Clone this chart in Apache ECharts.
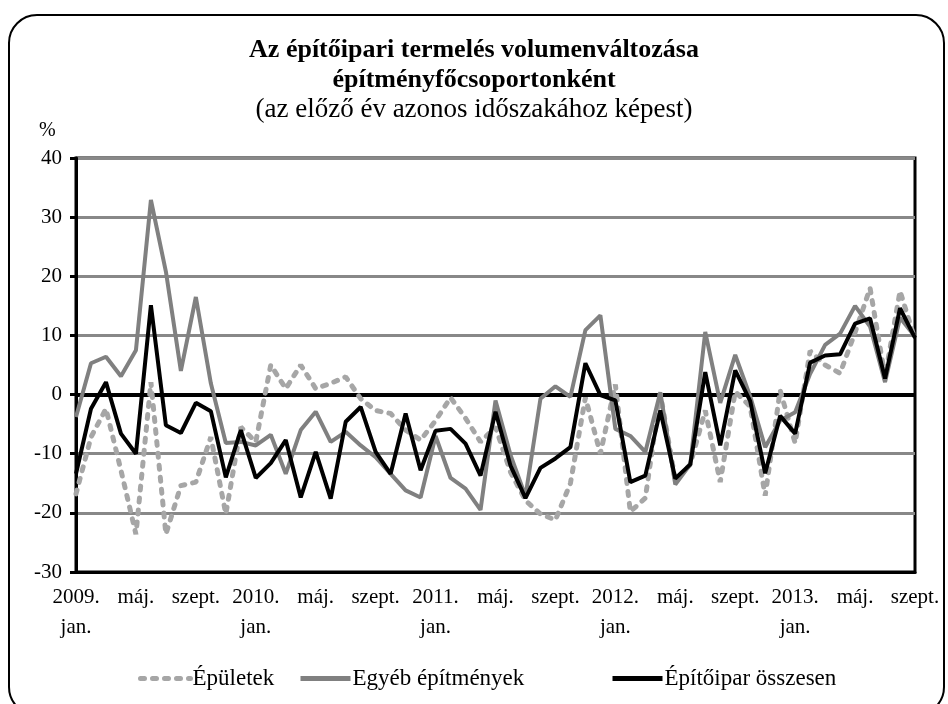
<!DOCTYPE html>
<html>
<head>
<meta charset="utf-8">
<script src="https://cdn.jsdelivr.net/npm/echarts@6/dist/echarts.min.js"></script>
<style>
html,body{margin:0;padding:0;background:#fff;}
#chart{width:948px;height:704px;}
</style>
</head>
<body>
<div id="chart"></div>
<script>
const years = ["2009.", "2010.", "2011.", "2012.", "2013."];
const months = ["jan.", "febr.", "márc.", "ápr.", "máj.", "jún.", "júl.", "aug.", "szept.", "okt.", "nov.", "dec."];
const monthCount = 57;

const epuletek = [
  -16.8, -7.2, -2.4, -12.8, -23.6, 2.1, -23.6, -15.4, -14.8, -7.2, -20.2, -5.5,
  -8.0, 5.0, 1.0, 5.0, 1.0, 1.9, 3.0, -0.7, -2.7, -3.2, -6.0, -7.7,
  -4.4, -0.5, -4.0, -8.0, -5.5, -13.1, -17.9, -20.2, -21.2, -15.0, -0.5, -10.0,
  1.7, -19.8, -17.5, 0.2, -14.5, -11.8, -2.7, -14.8, 0.5, -2.0, -17.1, 0.7,
  -8.2, 7.4, 5.0, 3.6, 10.5, 18.0, 3.0, 17.5, 9.3
];
const egyeb = [
  -3.8, 5.3, 6.4, 3.1, 7.5, 32.9, 20.8, 4.0, 16.5, 1.9, -8.2, -8.0,
  -8.6, -6.8, -13.4, -6.0, -2.9, -8.0, -6.3, -8.6, -10.6, -13.4, -16.2, -17.4,
  -7.0, -14.1, -15.9, -19.5, -1.0, -10.2, -17.2, -0.7, 1.4, -0.4, 10.9, 13.4,
  -5.8, -7.0, -9.7, 0.4, -15.2, -11.8, 10.6, -1.4, 6.7, -0.3, -8.9, -4.4,
  -3.0, 3.5, 8.4, 10.3, 15.0, 11.5, 2.1, 13.0, 9.8
];
const osszesen = [
  -13.4, -2.4, 2.1, -6.6, -10.0, 15.1, -5.2, -6.5, -1.4, -2.8, -14.0, -6.0,
  -14.1, -11.6, -7.7, -17.4, -9.7, -17.6, -4.6, -2.1, -9.7, -13.4, -3.2, -12.8,
  -6.1, -5.8, -8.3, -13.7, -2.9, -12.0, -17.5, -12.4, -10.8, -8.9, 5.3, -0.1,
  -1.0, -14.8, -13.7, -2.7, -14.2, -11.8, 3.8, -8.6, 4.1, -1.1, -13.3, -3.6,
  -6.6, 5.4, 6.6, 6.8, 12.0, 12.9, 2.7, 14.6, 9.6
];

const categories = [];
for (let i = 0; i < monthCount; i++) {
  const m = months[i % 12];
  categories.push(i % 12 === 0 ? years[Math.floor(i / 12)] + "\n" + m : m);
}

const FONT = "Liberation Serif";
const legendBase = {
  bottom: 14,
  padding: 0,
  itemWidth: 50,
  itemHeight: 12,
  itemGap: 0,
  itemStyle: {opacity: 0},
  lineStyle: {width: 5},
  textStyle: {fontFamily: FONT, fontSize: 23, color: '#000', padding: [0, 0, 0, -3]}
};
const chart = echarts.init(document.getElementById('chart'), null, {renderer: 'canvas'});
chart.setOption({
  animation: false,
  backgroundColor: '#fff',
  textStyle: {fontFamily: FONT, color: '#000'},
  title: [{
    text: 'Az építőipari termelés volumenváltozása\népítményfőcsoportonként',
    left: 'center', top: 30,
    textStyle: {fontFamily: FONT, fontSize: 26, fontWeight: 'bold', color: '#000', lineHeight: 30}
  }, {
    text: '(az előző év azonos időszakához képest)',
    left: 'center', top: 91,
    textStyle: {fontFamily: FONT, fontSize: 27, fontWeight: 'normal', color: '#000'}
  }, {
    text: '%',
    left: 34, top: 116,
    textStyle: {fontFamily: FONT, fontSize: 20, fontWeight: 'normal', color: '#000'}
  }],
  graphic: [{
    type: 'rect',
    shape: {x: 9, y: 15, width: 935, height: 700, r: 28},
    style: {fill: 'none', stroke: '#000', lineWidth: 2},
    silent: true
  }],
  legend: [
    Object.assign({}, legendBase, {left: 138, data: ['Épületek']}),
    Object.assign({}, legendBase, {left: 298, data: ['Egyéb építmények']}),
    Object.assign({}, legendBase, {left: 610, data: ['Építőipar összesen']})
  ],
  grid: {left: 76, right: 33, top: 158, bottom: 132, show: true, borderColor: '#000', borderWidth: 3, backgroundColor: 'transparent'},
  xAxis: {
    type: 'category',
    data: categories,
    boundaryGap: false,
    axisLine: {show: true, onZero: false, lineStyle: {color: '#000', width: 3}},
    axisTick: {show: false},
    axisLabel: {interval: 3, fontFamily: FONT, fontSize: 21, color: '#000', lineHeight: 30, margin: 10}
  },
  yAxis: {
    type: 'value',
    min: -30, max: 40, interval: 10,
    axisLine: {show: true, lineStyle: {color: '#000', width: 3}},
    axisTick: {show: true, length: 6, lineStyle: {color: '#000', width: 3}},
    axisLabel: {fontFamily: FONT, fontSize: 21, color: '#000', margin: 14},
    splitLine: {show: true, lineStyle: {color: '#888', width: 3}}
  },
  series: [{
    name: 'Épületek', type: 'line', data: epuletek, symbol: 'none',
    lineStyle: {color: '#a6a6a6', width: 5, type: [4, 8], cap: 'round'},
    itemStyle: {color: '#a6a6a6'}, z: 2
  }, {
    name: 'Egyéb építmények', type: 'line', data: egyeb, symbol: 'none',
    lineStyle: {color: '#808080', width: 4},
    itemStyle: {color: '#808080'}, z: 3
  }, {
    name: 'Építőipar összesen', type: 'line', data: osszesen, symbol: 'none',
    lineStyle: {color: '#000', width: 4},
    itemStyle: {color: '#000'}, z: 4,
    markLine: {
      silent: true, symbol: 'none', label: {show: false},
      lineStyle: {color: '#000', width: 4, type: 'solid'},
      data: [{yAxis: 0}],
      z: 1
    }
  }]
});
</script>
</body>
</html>
